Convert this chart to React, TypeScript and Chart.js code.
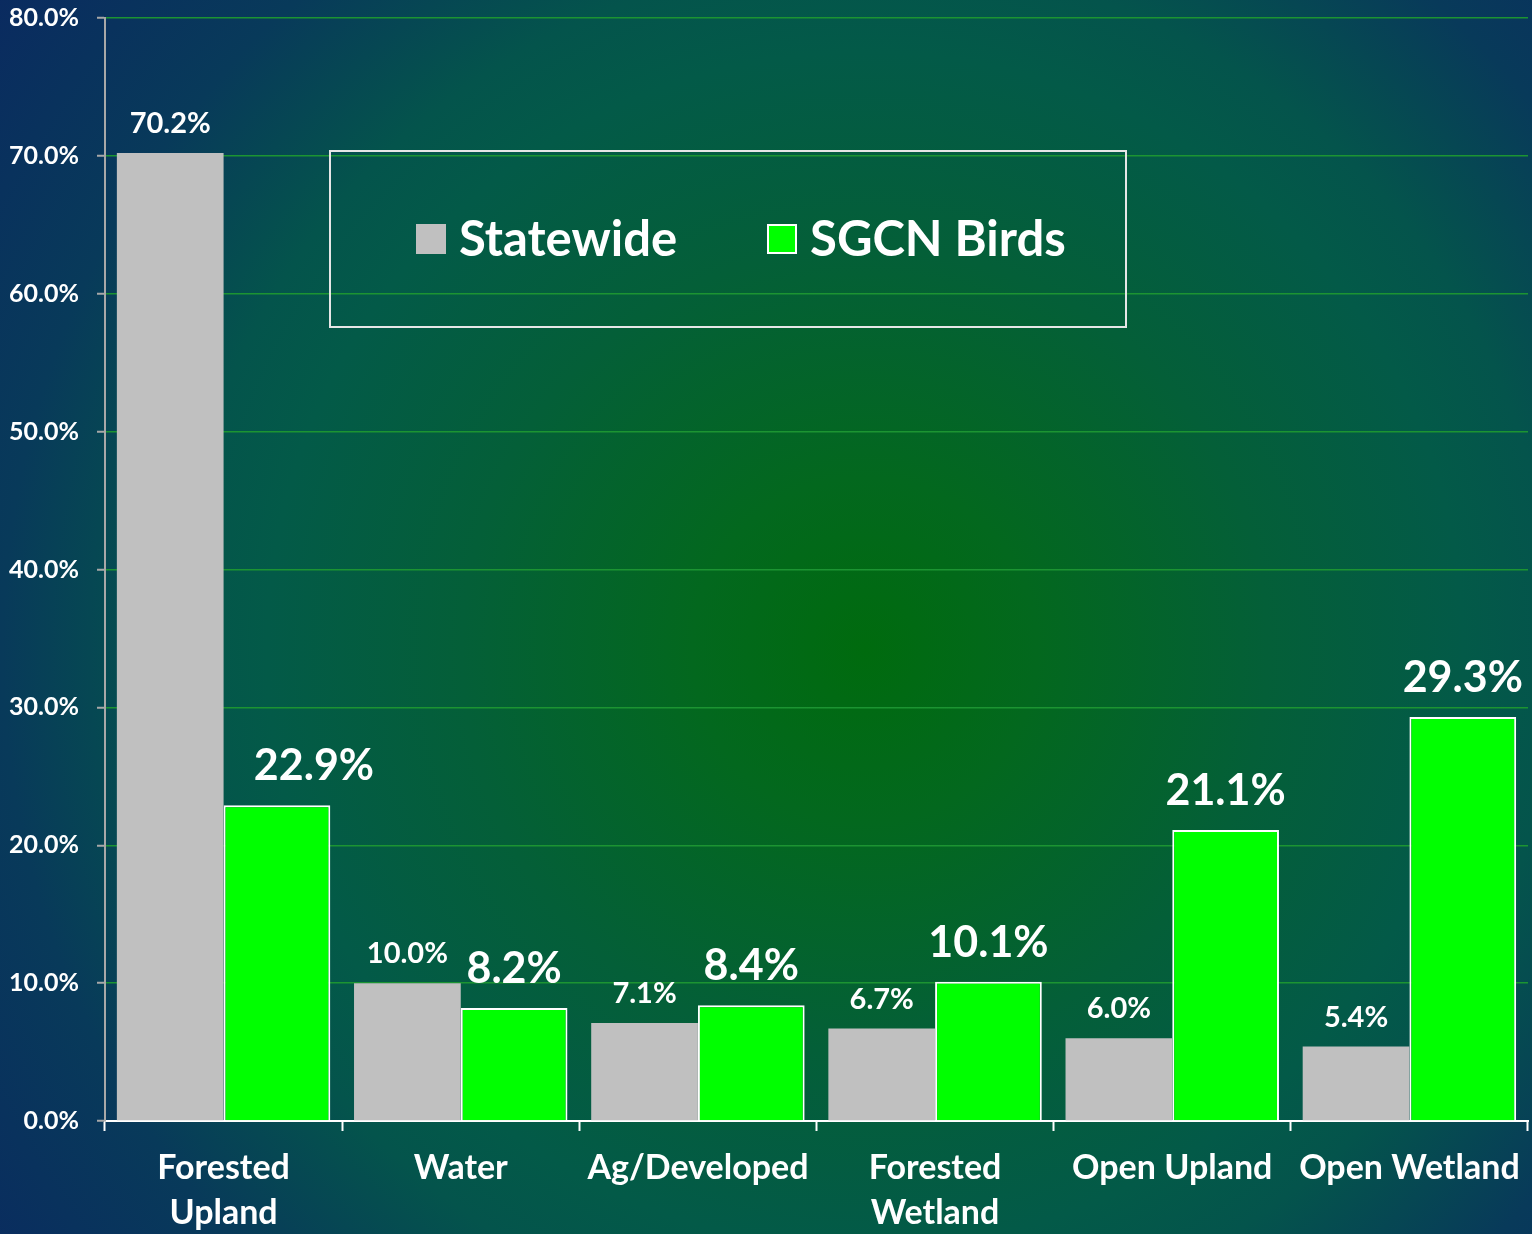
import React, { useEffect, useRef } from "react";
import { Chart, registerables } from "chart.js";

Chart.register(...registerables);

const categories: (string | string[])[] = [
  ["Forested", "Upland"],
  "Water",
  "Ag/Developed",
  ["Forested", "Wetland"],
  "Open Upland",
  "Open Wetland",
];
const statewide = [70.2, 10.0, 7.1, 6.7, 6.0, 5.4];
const sgcnBirds = [22.9, 8.2, 8.4, 10.1, 21.1, 29.3];
const seriesNames = ["Statewide", "SGCN Birds"];

const FONT = "Lato, 'Open Sans', sans-serif";

const bgPlugin = {
  id: "bgGradient",
  beforeDraw(chart: any) {
    const { ctx, width, height } = chart;
    ctx.save();
    const g = ctx.createRadialGradient(865, 650, 0, 865, 650, 1150);
    g.addColorStop(0, "#006b0e");
    g.addColorStop(0.15, "#03681e");
    g.addColorStop(0.35, "#045f38");
    g.addColorStop(0.52, "#035a48");
    g.addColorStop(0.6, "#04544c");
    g.addColorStop(0.75, "#083a5a");
    g.addColorStop(0.95, "#0a2a60");
    g.addColorStop(1, "#0a2862");
    ctx.fillStyle = g;
    ctx.fillRect(0, 0, width, height);
    ctx.restore();
  },
};

// manual label nudges (dataset index -> category index -> x shift)
const labelNudge: Record<string, number> = { "1-0": 37 };

const labelPlugin = {
  id: "barLabels",
  afterDatasetsDraw(chart: any) {
    const { ctx } = chart;
    ctx.save();
    ctx.fillStyle = "#ffffff";
    ctx.textAlign = "center";
    ctx.textBaseline = "alphabetic";
    chart.data.datasets.forEach((ds: any, di: number) => {
      const meta = chart.getDatasetMeta(di);
      const big = di === 1;
      ctx.font = `bold ${big ? 43 : 29}px ${FONT}`;
      meta.data.forEach((el: any, i: number) => {
        const v = ds.data[i] as number;
        const dx = labelNudge[`${di}-${i}`] || 0;
        ctx.fillText(v.toFixed(1) + "%", el.x + dx, el.y - (big ? 25 : 20));
      });
    });
    ctx.restore();
  },
};

const legendPlugin = {
  id: "boxLegend",
  afterDraw(chart: any) {
    const { ctx } = chart;
    ctx.save();
    ctx.strokeStyle = "#e6e6e6";
    ctx.lineWidth = 2;
    ctx.strokeRect(330, 151, 796, 176);
    const items = chart.data.datasets;
    const xs = [416, 767];
    ctx.font = `bold 49px ${FONT}`;
    ctx.textBaseline = "middle";
    ctx.textAlign = "left";
    items.forEach((ds: any, i: number) => {
      const x = xs[i];
      ctx.fillStyle = ds.backgroundColor;
      ctx.fillRect(x, 224, 30, 30);
      if (ds.borderWidth) {
        ctx.strokeStyle = ds.borderColor;
        ctx.lineWidth = 2;
        ctx.strokeRect(x + 1, 225, 28, 28);
      }
      ctx.fillStyle = "#ffffff";
      ctx.fillText(ds.label, x + 43, 240);
    });
    ctx.restore();
  },
};

export default function App() {
  const ref = useRef<HTMLCanvasElement | null>(null);
  useEffect(() => {
    document.body.style.margin = "0";
    const canvas = ref.current!;
    const chart = new Chart(canvas, {
      type: "bar",
      data: {
        labels: categories,
        datasets: [
          {
            label: seriesNames[0],
            data: statewide,
            backgroundColor: "#c0c0c0",
            borderWidth: 0,
            categoryPercentage: 0.9,
            barPercentage: 1.0,
          },
          {
            label: seriesNames[1],
            data: sgcnBirds,
            backgroundColor: "#00ff00",
            borderColor: "#ffffff",
            borderWidth: 2,
            categoryPercentage: 0.9,
            barPercentage: 1.0,
          },
        ],
      },
      options: {
        animation: false,
        responsive: false,
        maintainAspectRatio: false,
        layout: { padding: { top: 18, right: 4, left: 0, bottom: 0 } },
        plugins: {
          legend: { display: false },
          tooltip: { enabled: false },
        },
        scales: {
          x: {
            grid: {
              display: true,
              drawOnChartArea: false,
              drawTicks: true,
              tickLength: 10,
              tickColor: "#ffffff",
              tickWidth: 2,
              offset: true,
            },
            border: { display: true, color: "#ffffff", width: 2 },
            ticks: {
              color: "#ffffff",
              font: { family: FONT, size: 34, weight: "bold", lineHeight: 1.33 },
              padding: 14,
              maxRotation: 0,
              autoSkip: false,
            },
            afterFit(scale: any) {
              scale.height = 113;
              scale.paddingLeft = 0;
              scale.paddingRight = 0;
            },
          },
          y: {
            min: 0,
            max: 80,
            ticks: {
              stepSize: 10,
              color: "#ffffff",
              font: { family: FONT, size: 25, weight: "bold" },
              padding: 18,
              callback: (v: any) => Number(v).toFixed(1) + "%",
            },
            grid: {
              color: "#1c9432",
              lineWidth: 1.5,
              tickColor: "#a8a8a8",
              tickLength: 8,
              tickWidth: 2,
            },
            border: { display: true, color: "#a8a8a8", width: 2 },
            afterFit(scale: any) {
              scale.width = 105;
              scale.paddingTop = 0;
              scale.paddingBottom = 0;
            },
          },
        },
      },
      plugins: [bgPlugin, labelPlugin, legendPlugin],
    } as any);
    return () => chart.destroy();
  }, []);
  return <canvas ref={ref} width={1532} height={1234} style={{ display: "block" }} />;
}
